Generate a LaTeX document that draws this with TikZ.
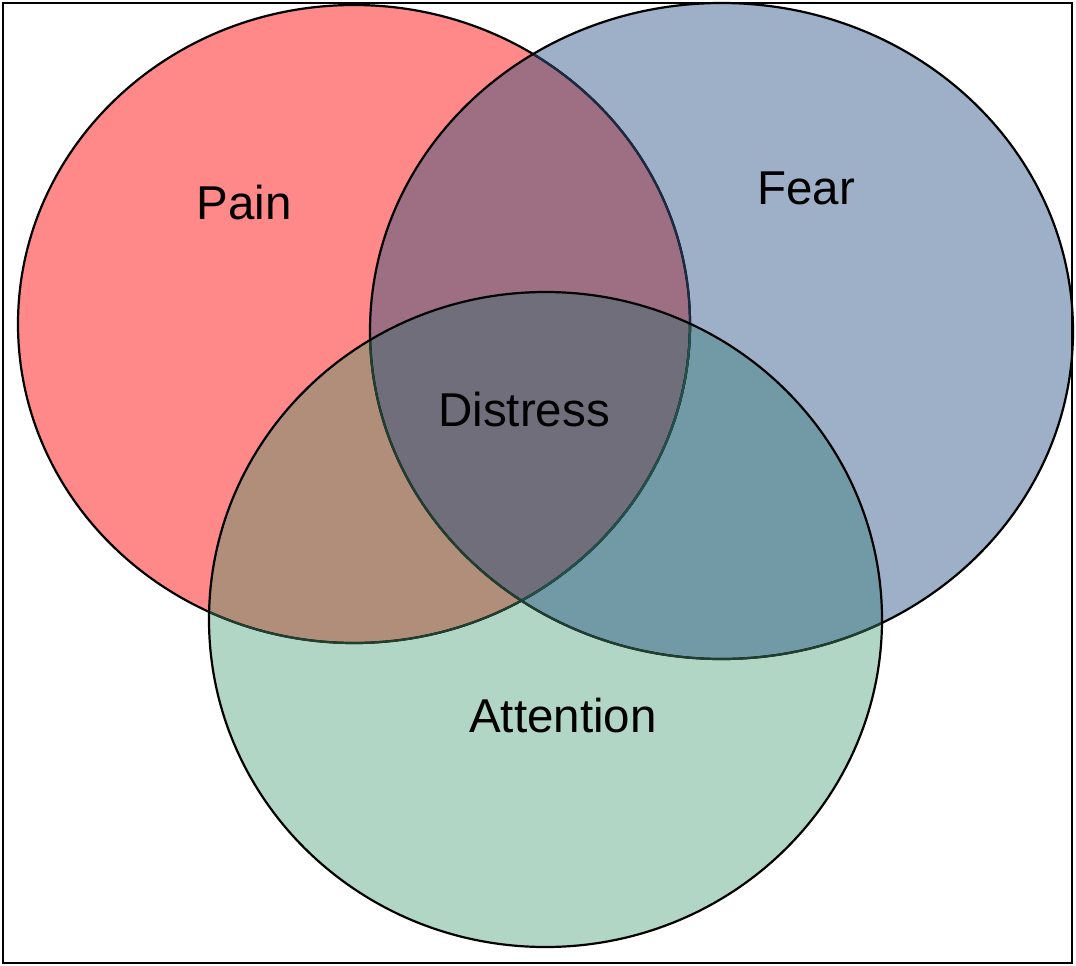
\documentclass[tikz,border=0pt]{standalone}
\usepackage{fontspec}
\setmainfont{Liberation Sans}
\definecolor{painc}{HTML}{FF8888}
\definecolor{fearc}{HTML}{9EB0C8}
\definecolor{attc}{HTML}{B2D6C5}
\definecolor{pfc}{HTML}{9E6E82}
\definecolor{pac}{HTML}{B08E7A}
\definecolor{fac}{HTML}{7199A6}
\definecolor{pfac}{HTML}{716E7B}
\definecolor{undf}{HTML}{1B2B44}
\definecolor{unda}{HTML}{1F3F30}
\definecolor{undfa}{HTML}{24504C}
\def\painpath{(354,324) ellipse [x radius=336pt, y radius=319pt]}
\def\fearpath{(721.5,331) ellipse [x radius=351.5pt, y radius=328pt]}
\def\attpath{(545.5,619.5) ellipse [x radius=336.5pt, y radius=327.5pt]}
\tikzset{
  outline/.style={line width=2.2pt},
  lbl/.style={inner sep=0pt, font=\fontsize{47.5}{57}\selectfont}
}
\begin{document}
\begin{tikzpicture}[x=1pt,y=-1pt]
\useasboundingbox (0,0) rectangle (1076,966);
\fill[white] (0,0) rectangle (1076,966);
% single regions
\fill[painc] \painpath;
\fill[fearc] \fearpath;
\fill[attc] \attpath;
% pairwise
\begin{scope}\clip \painpath; \fill[pfc] \fearpath; \end{scope}
\begin{scope}\clip \painpath; \fill[pac] \attpath; \end{scope}
\begin{scope}\clip \fearpath; \fill[fac] \attpath; \end{scope}
\begin{scope}\clip \painpath; \clip \fearpath; \fill[pfac] \attpath; \end{scope}
% outlines (earlier outlines are tinted under later fills)
\draw[outline,black] \painpath;
\begin{scope}\clip \fearpath; \draw[outline,undf] \painpath; \end{scope}
\begin{scope}\clip \attpath; \draw[outline,unda] \painpath; \end{scope}
\begin{scope}\clip \fearpath; \clip \attpath; \draw[outline,undfa] \painpath; \end{scope}
\draw[outline,black] \fearpath;
\begin{scope}\clip \attpath; \draw[outline,unda] \fearpath; \end{scope}
\draw[outline,black] \attpath;
% labels
\node[lbl] (pain) at (244,203) {Pain};
\node[lbl] (fear) at (806,188) {Fear};
\node[lbl] (distress) at (524,410) {Distress};
\node[lbl] (attention) at (563,716) {Attention};
% frame
\draw[line width=2pt] (3,3) rectangle (1072,963);
\end{tikzpicture}
\end{document}
